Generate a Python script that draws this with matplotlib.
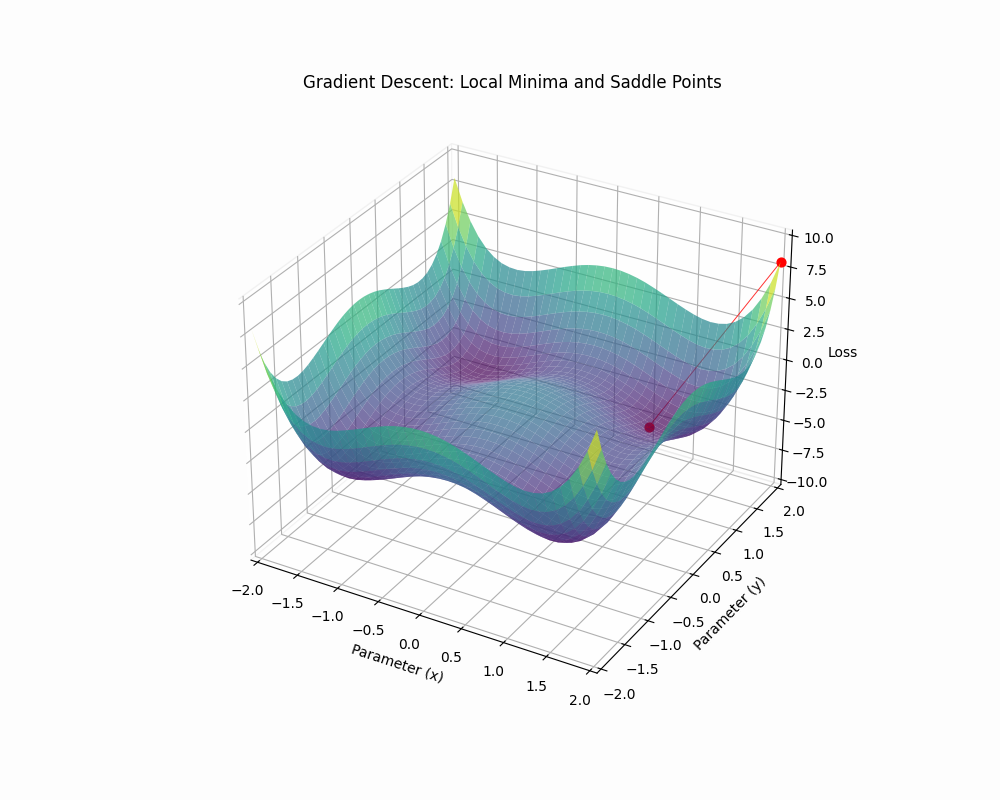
import numpy as np
import matplotlib
matplotlib.use("Agg")
import matplotlib.pyplot as plt

half_grid = [-2.0, -1.9, -1.8, -1.7, -1.6, -1.5, -1.4, -1.3, -1.2, -1.1, -1.0,
             -0.9, -0.8, -0.7, -0.6, -0.5, -0.4, -0.3, -0.2, -0.1, 0.0]

half_a = [8, 6.2, 4.78, 3.68, 2.87, 2.31, 1.96, 1.79, 1.75, 1.83, 2, 2.23, 2.49, 2.77, 3.05, 3.31, 3.55, 3.74, 3.88, 3.97, 4]
half_b = [6.2, 4.4, 2.98, 1.88, 1.07, .51, .16, -.01, -.05, .03, .2, .43, .69, .97, 1.25, 1.51, 1.75, 1.94, 2.08, 2.17, 2.2]
half_c = [4.78, 2.98, 1.56, .46, -.35, -.91, -1.26, -1.43, -1.47, -1.39, -1.22, -.99, -.73, -.45, -.17, .09, .33, .52, .66, .75, .78]
half_d = [3.68, 1.88, .46, -.64, -1.45, -2.01, -2.36, -2.53, -2.57, -2.49, -2.32, -2.09, -1.83, -1.55, -1.27, -1.01, -.77, -.58, -.44, -.35, -.32]
half_e = [2.87, 1.07, -.35, -1.45, -2.26, -2.82, -3.17, -3.34, -3.38, -3.3, -3.13, -2.9, -2.64, -2.36, -2.08, -1.82, -1.58, -1.39, -1.25, -1.16, -1.13]
half_f = [2.31, .51, -.91, -2.01, -2.82, -3.38, -3.73, -3.9, -3.94, -3.86, -3.69, -3.46, -3.2, -2.92, -2.64, -2.38, -2.14, -1.95, -1.81, -1.72, -1.69]
half_g = [1.96, .16, -1.26, -2.36, -3.17, -3.73, -4.08, -4.25, -4.29, -4.21, -4.04, -3.81, -3.55, -3.27, -2.99, -2.73, -2.49, -2.3, -2.16, -2.07, -2.04]
half_h = [1.79, -.01, -1.43, -2.53, -3.34, -3.9, -4.25, -4.42, -4.46, -4.38, -4.21, -3.98, -3.72, -3.44, -3.16, -2.9, -2.66, -2.47, -2.33, -2.24, -2.21]
half_i = [1.75, -.05, -1.47, -2.57, -3.38, -3.94, -4.29, -4.46, -4.5, -4.42, -4.25, -4.02, -3.76, -3.48, -3.2, -2.94, -2.7, -2.51, -2.37, -2.28, -2.25]
half_j = [1.83, .03, -1.39, -2.49, -3.3, -3.86, -4.21, -4.38, -4.42, -4.34, -4.17, -3.94, -3.68, -3.4, -3.12, -2.86, -2.62, -2.43, -2.29, -2.2, -2.17]
half_k = [2, .2, -1.22, -2.32, -3.13, -3.69, -4.04, -4.21, -4.25, -4.17, -4, -3.77, -3.51, -3.23, -2.95, -2.69, -2.45, -2.26, -2.12, -2.03, -2]
half_l = [2.23, .43, -.99, -2.09, -2.9, -3.46, -3.81, -3.98, -4.02, -3.94, -3.77, -3.54, -3.28, -3, -2.72, -2.46, -2.22, -2.03, -1.89, -1.8, -1.77]
half_m = [2.49, .69, -.73, -1.83, -2.64, -3.2, -3.55, -3.72, -3.76, -3.68, -3.51, -3.28, -3.02, -2.74, -2.46, -2.2, -1.96, -1.77, -1.63, -1.54, -1.51]
half_n = [2.77, .97, -.45, -1.55, -2.36, -2.92, -3.27, -3.44, -3.48, -3.4, -3.23, -3, -2.74, -2.46, -2.18, -1.92, -1.68, -1.49, -1.35, -1.26, -1.23]
half_o = [3.05, 1.25, -.17, -1.27, -2.08, -2.64, -2.99, -3.16, -3.2, -3.12, -2.95, -2.72, -2.46, -2.18, -1.9, -1.64, -1.4, -1.21, -1.07, -.98, -.95]
half_p = [3.31, 1.51, .09, -1.01, -1.82, -2.38, -2.73, -2.9, -2.94, -2.86, -2.69, -2.46, -2.2, -1.92, -1.64, -1.38, -1.14, -.95, -.81, -.72, -.69]
half_q = [3.55, 1.75, .33, -.77, -1.58, -2.14, -2.49, -2.66, -2.7, -2.62, -2.45, -2.22, -1.96, -1.68, -1.4, -1.14, -.9, -.71, -.57, -.48, -.45]
half_r = [3.74, 1.94, .52, -.58, -1.39, -1.95, -2.3, -2.47, -2.51, -2.43, -2.26, -2.03, -1.77, -1.49, -1.21, -.95, -.71, -.52, -.38, -.29, -.26]
half_s = [3.88, 2.08, .66, -.44, -1.25, -1.81, -2.16, -2.33, -2.37, -2.29, -2.12, -1.89, -1.63, -1.35, -1.07, -.81, -.57, -.38, -.24, -.15, -.12]
half_t = [3.97, 2.17, .75, -.35, -1.16, -1.72, -2.07, -2.24, -2.28, -2.2, -2.03, -1.8, -1.54, -1.26, -.98, -.72, -.48, -.29, -.15, -.06, -.03]
half_u = [4, 2.2, .78, -.32, -1.13, -1.69, -2.04, -2.21, -2.25, -2.17, -2, -1.77, -1.51, -1.23, -.95, -.69, -.45, -.26, -.12, -.03, 0]

path_x = [2.0, 1.0]
path_y = [2.0, 1.0]
path_z = [8.0, -4.0]

halves = [half_a, half_b, half_c, half_d, half_e, half_f, half_g, half_h, half_i, half_j, half_k,
          half_l, half_m, half_n, half_o, half_p, half_q, half_r, half_s, half_t, half_u]
rows = [h + h[-2::-1] for h in halves]
rows = rows + rows[-2::-1]
axis_vals = half_grid + [-v for v in half_grid[-2::-1]]

X, Y = np.meshgrid(axis_vals, axis_vals)
Z = np.array(rows, dtype=float)

fig = plt.figure(figsize=(10, 8), dpi=100, facecolor='#fdfdfd')
ax = fig.add_subplot(111, projection='3d')
ax.set_facecolor('#fdfdfd')
ax.plot_surface(X, Y, Z, cmap='viridis', alpha=0.7, rcount=50, ccount=50, linewidth=0, vmin=-4.5, vmax=7.2)
ax.plot(path_x, path_y, path_z, color='red', linewidth=0.7, alpha=0.8)
ax.scatter(path_x[0], path_y[0], path_z[0], color='red', s=40, depthshade=False)
ax.scatter(path_x[1], path_y[1], path_z[1], color='red', s=40, depthshade=False)
ax.set_xlim(-2.083, 2.083)
ax.set_ylim(-2.083, 2.083)
ax.set_zlim(-10.42, 10.42)
ax.set_xticks([-2, -1.5, -1, -0.5, 0, 0.5, 1, 1.5, 2])
ax.set_yticks([-2, -1.5, -1, -0.5, 0, 0.5, 1, 1.5, 2])
ax.set_zticks([-10, -7.5, -5, -2.5, 0, 2.5, 5, 7.5, 10])
for a in (ax.xaxis, ax.yaxis, ax.zaxis):
    a.pane.set_facecolor((1, 1, 1, 0))
    a.pane.set_edgecolor((0.9, 0.9, 0.9, 1))
ax.set_xlabel('Parameter (x)')
ax.set_ylabel('Parameter (y)')
ax.set_zlabel('Loss')
ax.set_title('Gradient Descent: Local Minima and Saddle Points')
fig.savefig('out.png', dpi=100, facecolor=fig.get_facecolor())
